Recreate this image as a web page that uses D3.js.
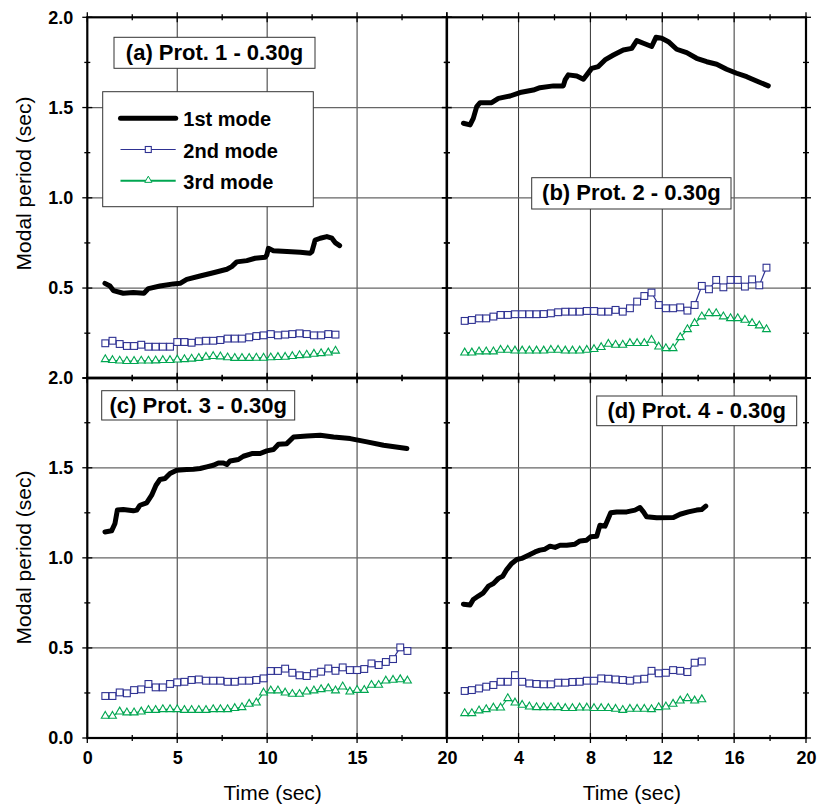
<!DOCTYPE html>
<html>
<head>
<meta charset="utf-8">
<script src="https://cdnjs.cloudflare.com/ajax/libs/d3/7.8.5/d3.min.js"></script>
<style>
  body { margin: 0; background: #fff; }
  svg { display: block; font-family: "Liberation Sans", Arial, sans-serif; }
</style>
</head>
<body>
<svg id="chart" width="817" height="805"></svg>
<script>
// ---- DATA ----
const modeNames = ["1st mode", "2nd mode", "3rd mode"];
const panelLabels = ["(a) Prot. 1 - 0.30g", "(b) Prot. 2 - 0.30g", "(c) Prot. 3 - 0.30g", "(d) Prot. 4 - 0.30g"];
const yTickValues = [0, 0.5, 1.0, 1.5, 2.0];
const xTicksLeft = [0, 5, 10, 15, 20];
const xTicksRight = [0, 4, 8, 12, 16, 20];

// panel (a)
const p1Mode1 = [[0.98,0.526],[1.26,0.511],[1.45,0.486],[2.0,0.471],[2.56,0.475],[3.15,0.471],[3.4,0.497],
  [4.04,0.511],[4.79,0.523],[5.16,0.526],[5.53,0.548],[6.27,0.567],[7.01,0.585],[7.76,0.604],[8.03,0.619],
  [8.31,0.645],[8.87,0.652],[9.33,0.665],[9.89,0.670],[9.98,0.683],[10.07,0.720],[10.35,0.707],[11.1,0.702],
  [11.84,0.698],[12.39,0.693],[12.49,0.702],[12.67,0.766],[12.95,0.776],[13.32,0.785],[13.6,0.776],
  [13.78,0.752],[14.03,0.735]];
const p1Times = [1.0,1.4,1.8,2.2,2.6,3.0,3.4,3.8,4.2,4.6,5.0,5.4,5.8,6.2,6.6,7.0,7.4,7.8,8.2,8.6,9.0,9.4,9.8,
  10.2,10.6,11.0,11.4,11.8,12.2,12.6,13.0,13.4,13.8];
const p1Mode2 = [0.194,0.208,0.190,0.179,0.179,0.186,0.175,0.175,0.175,0.175,0.201,0.201,0.197,0.205,0.208,
  0.208,0.212,0.220,0.220,0.220,0.227,0.234,0.238,0.245,0.238,0.242,0.245,0.249,0.245,0.238,0.238,0.245,0.242];
const p1Mode3 = [0.105,0.100,0.097,0.095,0.095,0.097,0.097,0.098,0.100,0.100,0.103,0.105,0.108,0.112,0.118,
  0.122,0.120,0.115,0.112,0.112,0.112,0.113,0.113,0.115,0.117,0.118,0.122,0.127,0.130,0.135,0.138,0.142,0.152];

// panel (b)
const p2Mode1 = [[0.93,1.413],[1.30,1.404],[1.48,1.440],[1.67,1.505],[1.86,1.527],[2.50,1.527],[2.88,1.551],
  [3.53,1.564],[4.08,1.583],[4.82,1.597],[5.19,1.610],[5.94,1.620],[6.49,1.620],[6.59,1.653],[6.77,1.681],
  [7.24,1.675],[7.61,1.657],[8.07,1.717],[8.44,1.727],[8.81,1.764],[9.28,1.791],[9.83,1.819],[10.30,1.828],
  [10.58,1.871],[10.95,1.856],[11.41,1.838],[11.65,1.889],[11.97,1.884],[12.34,1.865],[12.80,1.823],
  [13.36,1.804],[13.91,1.773],[14.47,1.754],[15.03,1.740],[15.58,1.712],[16.14,1.690],[16.70,1.671],
  [17.25,1.647],[17.90,1.620]];
const p2Times = [1.0,1.4,1.8,2.2,2.6,3.0,3.4,3.8,4.2,4.6,5.0,5.4,5.8,6.2,6.6,7.0,7.4,7.8,8.2,8.6,9.0,9.4,9.8,
  10.2,10.6,11.0,11.4,11.8,12.2,12.6,13.0,13.4,13.8,14.2,14.6,15.0,15.4,15.8,16.2,16.6,17.0,17.4,17.8];
const p2Mode2 = [0.318,0.323,0.332,0.332,0.342,0.351,0.351,0.355,0.355,0.355,0.355,0.356,0.360,0.366,0.369,
  0.369,0.369,0.373,0.373,0.369,0.369,0.379,0.369,0.388,0.425,0.456,0.475,0.406,0.388,0.388,0.393,0.375,
  0.406,0.512,0.493,0.545,0.504,0.545,0.545,0.508,0.548,0.515,0.613];
const p2Mode3 = [0.142,0.142,0.148,0.148,0.148,0.157,0.157,0.153,0.153,0.153,0.153,0.153,0.157,0.157,0.153,
  0.153,0.153,0.157,0.161,0.172,0.190,0.185,0.185,0.194,0.194,0.194,0.212,0.175,0.166,0.166,0.227,0.271,
  0.305,0.342,0.360,0.360,0.342,0.332,0.332,0.323,0.305,0.292,0.271];

// panel (c)
const p3Mode1 = [[0.98,1.144],[1.35,1.150],[1.54,1.191],[1.67,1.265],[2.0,1.268],[2.56,1.261],[2.75,1.265],
  [2.93,1.292],[3.30,1.305],[3.58,1.348],[3.82,1.403],[4.04,1.435],[4.32,1.440],[4.60,1.468],[4.97,1.486],
  [5.53,1.490],[5.90,1.492],[6.27,1.496],[6.64,1.505],[7.01,1.514],[7.29,1.527],[7.57,1.527],[7.76,1.518],
  [7.94,1.538],[8.40,1.546],[8.68,1.564],[9.15,1.579],[9.61,1.579],[9.98,1.594],[10.35,1.601],[10.63,1.631],
  [11.09,1.634],[11.47,1.671],[12.21,1.677],[12.95,1.681],[13.69,1.671],[14.62,1.662],[15.55,1.644],
  [16.47,1.625],[17.77,1.607]];
const p3Times = [1.0,1.4,1.8,2.2,2.6,3.0,3.4,3.8,4.2,4.6,5.0,5.4,5.8,6.2,6.6,7.0,7.4,7.8,8.2,8.6,9.0,9.4,9.8,
  10.2,10.6,11.0,11.4,11.8,12.2,12.6,13.0,13.4,13.8,14.2,14.6,15.0,15.4,15.8,16.2,16.6,17.0,17.4,17.8];
const p3Mode2 = [0.233,0.233,0.253,0.248,0.266,0.270,0.300,0.281,0.281,0.300,0.309,0.312,0.322,0.325,0.318,
  0.318,0.318,0.312,0.312,0.318,0.318,0.322,0.331,0.372,0.372,0.385,0.362,0.348,0.344,0.359,0.368,0.386,
  0.373,0.392,0.377,0.377,0.383,0.414,0.405,0.422,0.438,0.503,0.483];
const p3Mode3 = [0.122,0.122,0.146,0.141,0.141,0.146,0.155,0.155,0.159,0.159,0.159,0.155,0.155,0.155,0.155,
  0.159,0.159,0.159,0.165,0.170,0.189,0.196,0.251,0.263,0.263,0.251,0.244,0.244,0.257,0.263,0.270,0.275,
  0.263,0.285,0.257,0.266,0.266,0.294,0.294,0.318,0.322,0.325,0.318];

// panel (d)
const p4Mode1 = [[0.93,0.743],[1.30,0.738],[1.48,0.769],[1.76,0.788],[2.04,0.806],[2.32,0.843],[2.60,0.858],
  [2.88,0.886],[3.12,0.898],[3.34,0.935],[3.62,0.969],[3.90,0.991],[4.17,0.997],[4.55,1.015],[4.92,1.033],
  [5.19,1.043],[5.47,1.048],[5.75,1.065],[6.03,1.058],[6.31,1.070],[6.68,1.070],[7.14,1.076],[7.42,1.094],
  [7.79,1.098],[8.01,1.117],[8.35,1.120],[8.53,1.181],[8.81,1.176],[9.13,1.250],[9.46,1.255],[10.02,1.255],
  [10.48,1.265],[10.76,1.279],[10.95,1.255],[11.13,1.228],[11.69,1.222],[12.62,1.224],[12.99,1.242],
  [13.45,1.255],[13.91,1.265],[14.19,1.268],[14.42,1.287]];
const p4Times = [1.0,1.4,1.8,2.2,2.6,3.0,3.4,3.8,4.2,4.6,5.0,5.4,5.8,6.2,6.6,7.0,7.4,7.8,8.2,8.6,9.0,9.4,9.8,
  10.2,10.6,11.0,11.4,11.8,12.2,12.6,13.0,13.4,13.8,14.2];
const p4Mode2 = [0.261,0.266,0.275,0.285,0.294,0.312,0.312,0.349,0.312,0.303,0.300,0.298,0.298,0.307,0.307,
  0.311,0.312,0.318,0.318,0.331,0.329,0.325,0.322,0.318,0.325,0.329,0.373,0.359,0.362,0.377,0.373,0.366,
  0.418,0.425];
const p4Mode3 = [0.137,0.137,0.152,0.159,0.168,0.168,0.220,0.196,0.183,0.174,0.170,0.170,0.170,0.170,0.165,
  0.165,0.168,0.168,0.165,0.165,0.165,0.161,0.155,0.161,0.161,0.161,0.159,0.170,0.174,0.189,0.207,0.220,
  0.207,0.214];

// ---- LAYOUT ----
const FONT = '"Liberation Sans", Arial, sans-serif';
const BLUE = "#2e3192";
const GREEN = "#00a651";
const colX = [[87.3, 447], [446.7, 806]];
const rowY = [[378.3, 17.3], [738, 377.7]];
const labelBoxes = [
  { x: 114, y: 37.3, w: 201, h: 31 },
  { x: 531.7, y: 177.7, w: 199.3, h: 31.3 },
  { x: 101.7, y: 390.7, w: 193, h: 29.3 },
  { x: 596.7, y: 396, w: 200, h: 29.7 }
];

const panels = [
  { col: 0, row: 0, m1: p1Mode1, t: p1Times, m2: p1Mode2, m3: p1Mode3 },
  { col: 1, row: 0, m1: p2Mode1, t: p2Times, m2: p2Mode2, m3: p2Mode3 },
  { col: 0, row: 1, m1: p3Mode1, t: p3Times, m2: p3Mode2, m3: p3Mode3 },
  { col: 1, row: 1, m1: p4Mode1, t: p4Times, m2: p4Mode2, m3: p4Mode3 }
];

const svg = d3.select("#chart");

panels.forEach((p, i) => {
  const x = d3.scaleLinear().domain([0, 20]).range(colX[p.col]);
  const y = d3.scaleLinear().domain([0, 2]).range(rowY[p.row]);
  const xMajor = p.col === 0 ? xTicksLeft : xTicksRight;
  const xStep = p.col === 0 ? 2.5 : 2;
  const xMinor = d3.range(xStep, 20, xStep * 2);
  const yMinor = [0.25, 0.75, 1.25, 1.75];
  const [x0, x1] = x.range();
  const [y0, y1] = y.range(); // y0 bottom, y1 top

  const g = svg.append("g");

  // grid
  g.selectAll("line.vgrid")
    .data(xMajor.filter(d => d > 0 && d < 20))
    .join("line")
    .attr("x1", d => x(d)).attr("x2", d => x(d))
    .attr("y1", y1).attr("y2", y0)
    .attr("stroke", "#333").attr("stroke-width", 1);

  g.selectAll("line.hgrid")
    .data([0.5, 1.0, 1.5])
    .join("line")
    .attr("x1", x0).attr("x2", x1)
    .attr("y1", d => y(d)).attr("y2", d => y(d))
    .attr("stroke", "#666").attr("stroke-width", 1.3);

  // ticks on all sides, crossing the frame
  const tickG = g.append("g").attr("stroke", "#000").attr("stroke-width", 1.3);
  [y0, y1].forEach(yy => {
    tickG.selectAll(null).data(xMajor).join("line")
      .attr("x1", d => x(d)).attr("x2", d => x(d))
      .attr("y1", yy - 5).attr("y2", yy + 5);
    tickG.selectAll(null).data(xMinor).join("line")
      .attr("x1", d => x(d)).attr("x2", d => x(d))
      .attr("y1", yy - 3).attr("y2", yy + 3);
  });
  [x0, x1].forEach(xx => {
    tickG.selectAll(null).data(yTickValues).join("line")
      .attr("x1", xx - 5).attr("x2", xx + 5)
      .attr("y1", d => y(d)).attr("y2", d => y(d));
    tickG.selectAll(null).data(yMinor).join("line")
      .attr("x1", xx - 3).attr("x2", xx + 3)
      .attr("y1", d => y(d)).attr("y2", d => y(d));
  });

  // frame
  g.append("rect")
    .attr("x", x0).attr("y", y1)
    .attr("width", x1 - x0).attr("height", y0 - y1)
    .attr("fill", "none").attr("stroke", "#000").attr("stroke-width", 2.2);

  // tick labels
  if (p.col === 0) {
    const yVals = p.row === 0 ? yTickValues.filter(d => d > 0) : yTickValues;
    const ax = d3.axisLeft(y).tickValues(yVals).tickSize(0).tickPadding(14).tickFormat(d3.format(".1f"));
    const axG = g.append("g").attr("transform", `translate(${x0},0)`).call(ax);
    axG.select(".domain").remove();
    axG.selectAll("text").attr("font-family", FONT).attr("font-size", 18).attr("font-weight", "bold").attr("fill", "#000");

    g.append("text")
      .attr("transform", `translate(30.5,${p.row === 0 ? 183.5 : 557.5}) rotate(-90)`)
      .attr("text-anchor", "middle")
      .attr("font-family", FONT).attr("font-size", 21)
      .text("Modal period (sec)");
  }
  if (p.row === 1) {
    const xVals = p.col === 0 ? xTicksLeft : xTicksRight.filter(d => d > 0);
    const ax = d3.axisBottom(x).tickValues(xVals).tickSize(0).tickPadding(13.2);
    const axG = g.append("g").attr("transform", `translate(0,${y0})`).call(ax);
    axG.select(".domain").remove();
    axG.selectAll("text").attr("font-family", FONT).attr("font-size", 18).attr("font-weight", "bold").attr("fill", "#000");

    g.append("text")
      .attr("x", (x0 + x1) / 2 + 5.5).attr("y", 800)
      .attr("text-anchor", "middle")
      .attr("font-family", FONT).attr("font-size", 21)
      .text("Time (sec)");
  }

  // series
  const line = d3.line().x(d => x(d[0])).y(d => y(d[1]));
  const m2 = p.t.map((t, k) => [t, p.m2[k]]);
  const m3 = p.t.map((t, k) => [t, p.m3[k]]);

  g.append("path").datum(m3).attr("d", line)
    .attr("fill", "none").attr("stroke", GREEN).attr("stroke-width", 1.1);
  g.selectAll("path.tri").data(m3).join("path")
    .attr("d", d3.symbol(d3.symbolTriangle, 27))
    .attr("transform", d => `translate(${x(d[0])},${y(d[1])})`)
    .attr("fill", "#fff").attr("stroke", GREEN).attr("stroke-width", 1.1);

  g.append("path").datum(m2).attr("d", line)
    .attr("fill", "none").attr("stroke", BLUE).attr("stroke-width", 1.2);
  g.selectAll("rect.sq").data(m2).join("rect")
    .attr("x", d => x(d[0]) - 3.4).attr("y", d => y(d[1]) - 3.4)
    .attr("width", 6.8).attr("height", 6.8)
    .attr("fill", "#fff").attr("stroke", BLUE).attr("stroke-width", 1.1);

  g.append("path").datum(p.m1).attr("d", line)
    .attr("fill", "none").attr("stroke", "#000").attr("stroke-width", 5)
    .attr("stroke-linejoin", "round").attr("stroke-linecap", "round");

  // panel label
  const b = labelBoxes[i];
  g.append("rect")
    .attr("x", b.x).attr("y", b.y).attr("width", b.w).attr("height", b.h)
    .attr("fill", "#fff").attr("stroke", "#333").attr("stroke-width", 1);
  g.append("text")
    .attr("x", b.x + b.w / 2).attr("y", b.y + 22.3)
    .attr("text-anchor", "middle")
    .attr("font-family", FONT).attr("font-size", 22).attr("font-weight", "bold")
    .text(panelLabels[i]);
});

// ---- LEGEND ----
const lg = svg.append("g");
lg.append("rect")
  .attr("x", 102.7).attr("y", 91.7).attr("width", 210.6).attr("height", 115)
  .attr("fill", "#fff").attr("stroke", "#333").attr("stroke-width", 1);

const legendY = [118.3, 149.5, 180.8];
const legendStyle = [
  { color: "#000", width: 5 },
  { color: BLUE, width: 1.2 },
  { color: GREEN, width: 2 }
];
modeNames.forEach((name, k) => {
  lg.append("line")
    .attr("x1", 120.5).attr("x2", 175.7)
    .attr("y1", legendY[k]).attr("y2", legendY[k])
    .attr("stroke", legendStyle[k].color).attr("stroke-width", legendStyle[k].width)
    .attr("stroke-linecap", k === 0 ? "round" : "butt");
  if (k === 1) {
    lg.append("rect")
      .attr("x", 145.3).attr("y", legendY[k] - 3).attr("width", 6).attr("height", 6)
      .attr("fill", "#fff").attr("stroke", BLUE).attr("stroke-width", 1.1);
  }
  if (k === 2) {
    lg.append("path")
      .attr("d", d3.symbol(d3.symbolTriangle, 22))
      .attr("transform", `translate(148.3,${legendY[k] - 0.5})`)
      .attr("fill", "#fff").attr("stroke", GREEN).attr("stroke-width", 1);
  }
  lg.append("text")
    .attr("x", 183.3).attr("y", legendY[k] + 8)
    .attr("font-family", FONT).attr("font-size", 20).attr("font-weight", "bold")
    .text(name);
});
</script>
</body>
</html>
